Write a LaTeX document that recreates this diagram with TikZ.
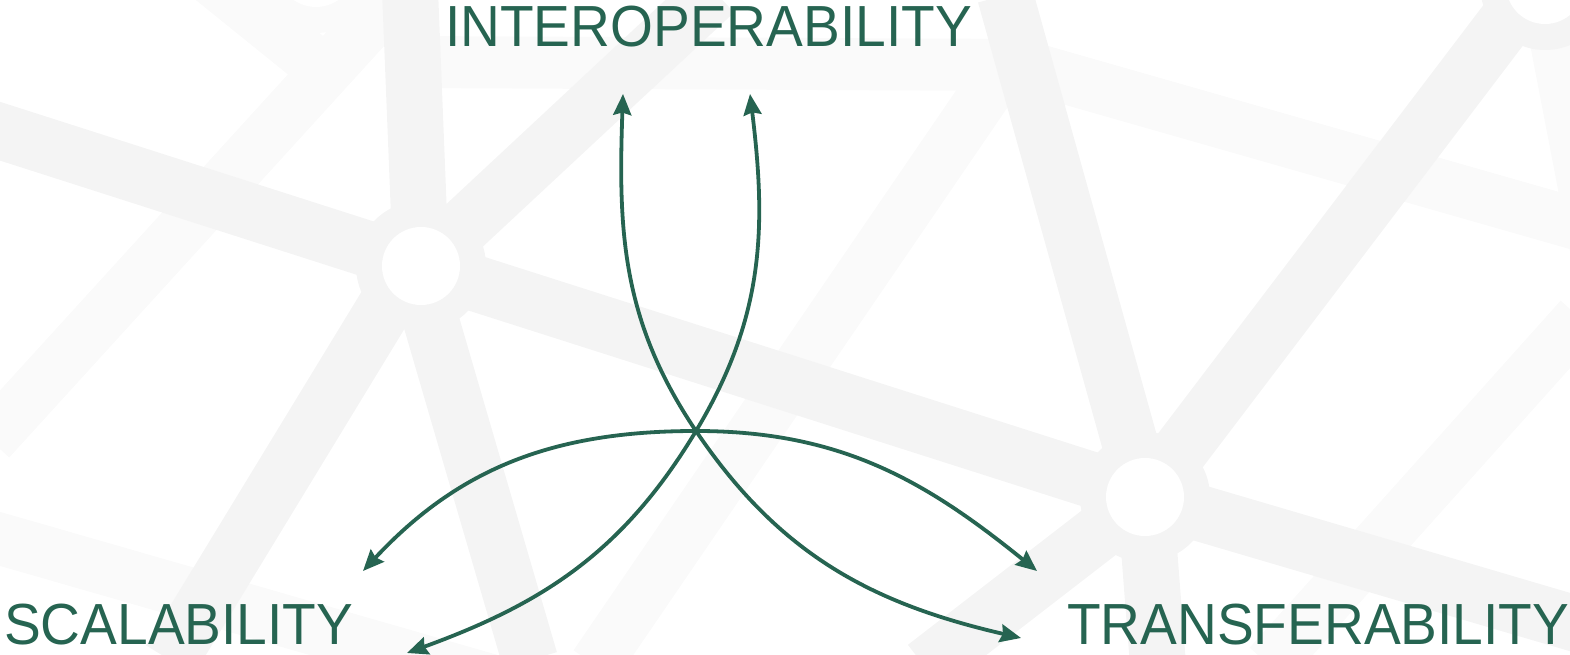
\documentclass[tikz,border=0pt]{standalone}
\usepackage{fontspec}
\newfontfamily\labelfont{Liberation Sans}[FakeStretch=0.95]
\usepackage{xcolor}
\definecolor{ogreen}{RGB}{38,100,81}
\definecolor{roadmajor}{RGB}{244,244,244}
\definecolor{roadminor}{RGB}{250,250,250}
\usepackage{tikz}
\usetikzlibrary{arrows.meta}

\begin{document}
\begin{tikzpicture}[x=1pt, y=1pt,
  road/.style={draw=roadmajor, line width=56pt},
  minor/.style={draw=roadminor, line width=52pt},
  plaza/.style={circle, fill=#1, minimum size=130pt, inner sep=0pt},
  hole/.style={circle, fill=white, minimum size=78pt, inner sep=0pt},
  lbl/.style={text=ogreen, font=\labelfont\fontsize{58}{60}\selectfont,
              inner sep=0pt, anchor=base west},
  arr/.style={{Stealth[length=21pt,width=18pt,inset=2.5pt]}-{Stealth[length=21pt,width=18pt,inset=2.5pt]},
              line width=3.8pt, draw=ogreen}
]
\useasboundingbox (0,0) rectangle (1570,655);

% Background: street map
\begin{scope}
\clip (0,0) rectangle (1570,655);
% minor streets
\draw[minor] (408,593) -- (1020,590) -- (1580,430);
\draw[minor] (1005,590) -- (595,-10);
\draw[minor] (1580,337) -- (1269,-10);
\draw[minor] (400,665) -- (-10,215);
\draw[minor] (200,685) -- (330,580);
\draw[minor] (-10,119) -- (560,-45);
\draw[minor] (1545,670) -- (1600,385);
\node[plaza=roadminor] (sqtop) at (316,687) {};
\node[hole] at (sqtop) {};
% main roads
\draw[road] (-10,527) -- (421,389) -- (1145,158) -- (1580,30);
\draw[road] (410,665) -- (421,389);
\draw[road] (421,389) -- (715,663);
\draw[road] (415,389) -- (530,-5);
\draw[road] (410,389) -- (170,-5);
\draw[road] (1005,660) -- (1145,158);
\draw[road] (1145,158) -- (1530,665);
\draw[road] (1145,158) -- (925,-12);
\draw[road] (1145,158) -- (1158,-10);
% squares
\node[plaza=roadmajor] (sqwest) at (421,389) {};
\node[hole] at (sqwest) {};
\node[plaza=roadmajor] (sqeast) at (1145,158) {};
\node[hole] at (sqeast) {};
\node[plaza=roadmajor] (sqcorner) at (1545,670) {};
\node[hole] at (sqcorner) {};
\end{scope}

% Labels
\node[lbl] (interop) at (445,608) {INTEROPERABILITY};
\node[lbl] (scal) at (4,10) {SCALABILITY};
\node[lbl] (transf) at (1067,10) {TRANSFERABILITY};

% Arrow ends
\coordinate (cross) at (696,224);
\coordinate (interA) at (623,561);
\coordinate (interB) at (750,561);
\coordinate (scalA) at (363,84);
\coordinate (scalB) at (407,2);
\coordinate (transA) at (1037,84);
\coordinate (transB) at (1021,17);

% Arrows
\draw[arr] (interA) to[out=268, in=124] (cross) to[out=-56, in=167] (transB);
\draw[arr] (interB) to[out=277, in=59] (cross) to[out=239, in=20] (scalB);
\draw[arr] (scalA) to[out=47, in=180] (cross) to[out=0, in=141] (transA);
\end{tikzpicture}
\end{document}
